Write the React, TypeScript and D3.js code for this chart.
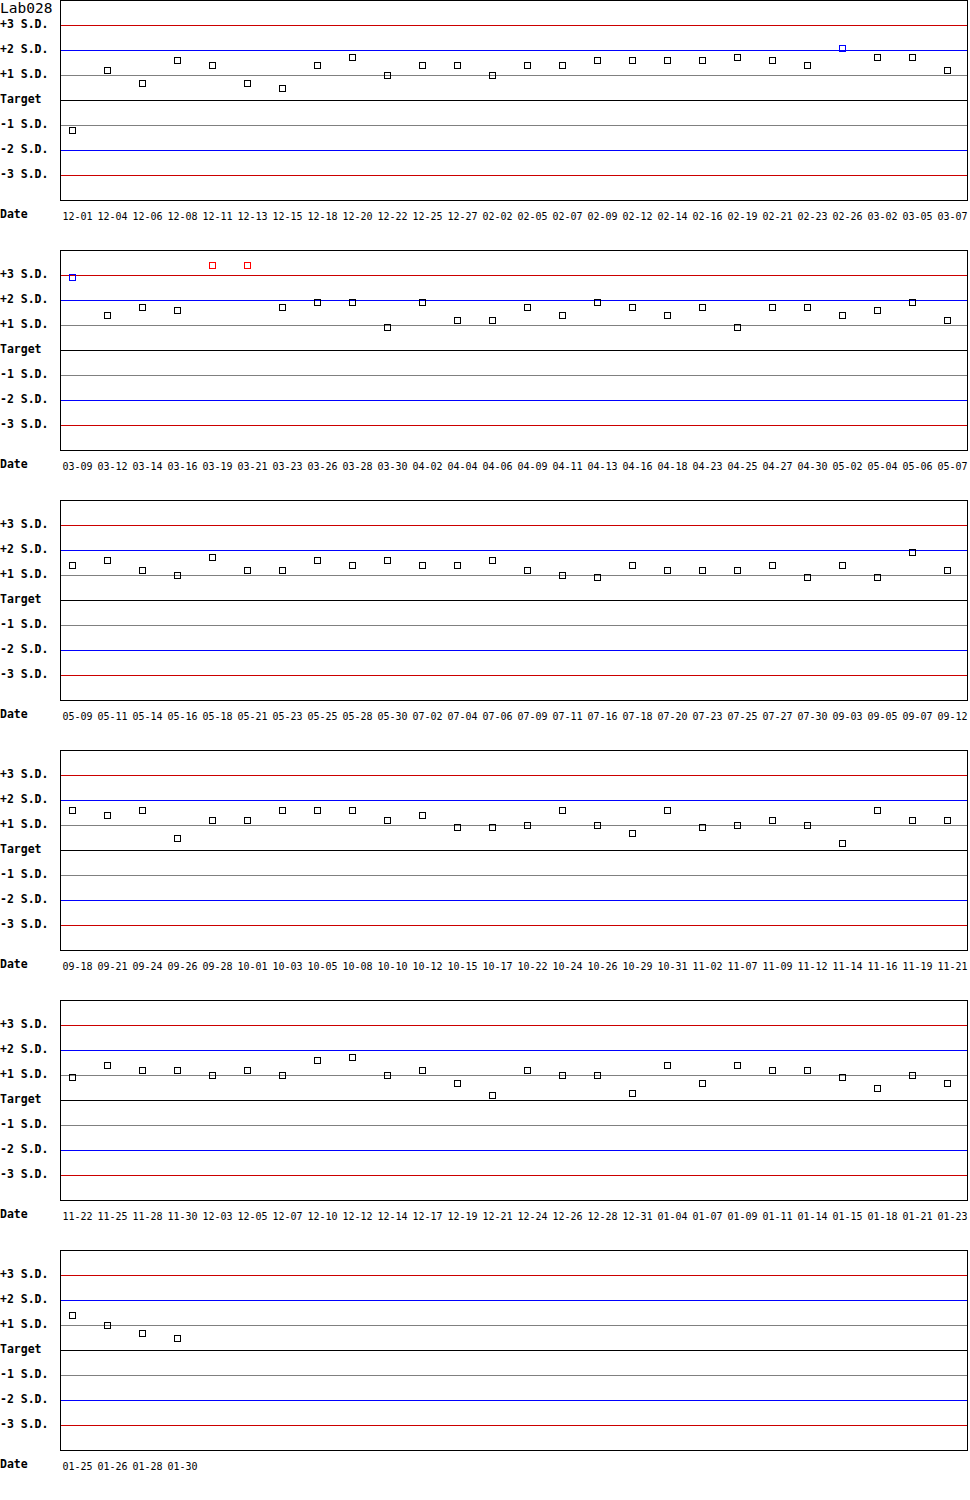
import React from "react";
import { scaleBand, scaleLinear, range } from "d3";

const title = "Lab028";

const dates = [
  "12-01", "12-04", "12-06", "12-08", "12-11", "12-13", "12-15", "12-18", "12-20", "12-22", "12-25", "12-27", "02-02",
  "02-05", "02-07", "02-09", "02-12", "02-14", "02-16", "02-19", "02-21", "02-23", "02-26", "03-02", "03-05", "03-07",
  "03-09", "03-12", "03-14", "03-16", "03-19", "03-21", "03-23", "03-26", "03-28", "03-30", "04-02", "04-04", "04-06",
  "04-09", "04-11", "04-13", "04-16", "04-18", "04-23", "04-25", "04-27", "04-30", "05-02", "05-04", "05-06", "05-07",
  "05-09", "05-11", "05-14", "05-16", "05-18", "05-21", "05-23", "05-25", "05-28", "05-30", "07-02", "07-04", "07-06",
  "07-09", "07-11", "07-16", "07-18", "07-20", "07-23", "07-25", "07-27", "07-30", "09-03", "09-05", "09-07", "09-12",
  "09-18", "09-21", "09-24", "09-26", "09-28", "10-01", "10-03", "10-05", "10-08", "10-10", "10-12", "10-15", "10-17",
  "10-22", "10-24", "10-26", "10-29", "10-31", "11-02", "11-07", "11-09", "11-12", "11-14", "11-16", "11-19", "11-21",
  "11-22", "11-25", "11-28", "11-30", "12-03", "12-05", "12-07", "12-10", "12-12", "12-14", "12-17", "12-19", "12-21",
  "12-24", "12-26", "12-28", "12-31", "01-04", "01-07", "01-09", "01-11", "01-14", "01-15", "01-18", "01-21", "01-23",
  "01-25", "01-26", "01-28", "01-30",
];

// deviation from target, in S.D. units
const sdValues = [
  -1.2, 1.2, 0.7, 1.6, 1.4, 0.7, 0.5, 1.4, 1.7, 1.0, 1.4, 1.4, 1.0,
  1.4, 1.4, 1.6, 1.6, 1.6, 1.6, 1.7, 1.6, 1.4, 2.1, 1.7, 1.7, 1.2,
  2.9, 1.4, 1.7, 1.6, 3.4, 3.4, 1.7, 1.9, 1.9, 0.9, 1.9, 1.2, 1.2,
  1.7, 1.4, 1.9, 1.7, 1.4, 1.7, 0.9, 1.7, 1.7, 1.4, 1.6, 1.9, 1.2,
  1.4, 1.6, 1.2, 1.0, 1.7, 1.2, 1.2, 1.6, 1.4, 1.6, 1.4, 1.4, 1.6,
  1.2, 1.0, 0.9, 1.4, 1.2, 1.2, 1.2, 1.4, 0.9, 1.4, 0.9, 1.9, 1.2,
  1.6, 1.4, 1.6, 0.5, 1.2, 1.2, 1.6, 1.6, 1.6, 1.2, 1.4, 0.9, 0.9,
  1.0, 1.6, 1.0, 0.7, 1.6, 0.9, 1.0, 1.2, 1.0, 0.3, 1.6, 1.2, 1.2,
  0.9, 1.4, 1.2, 1.2, 1.0, 1.2, 1.0, 1.6, 1.7, 1.0, 1.2, 0.7, 0.2,
  1.2, 1.0, 1.0, 0.3, 1.4, 0.7, 1.4, 1.2, 1.2, 0.9, 0.5, 1.0, 0.7,
  1.4, 1.0, 0.7, 0.5,
];

const refLevels = [3, 2, 1, 0, -1, -2, -3];
const refLabels = ["+3 S.D.", "+2 S.D.", "+1 S.D.", "Target", "-1 S.D.", "-2 S.D.", "-3 S.D."];

const perRow = 26;
const rowH = 250;
const plotH = 200;
const W = 970;
const H = 1500;

const lineColor = (lv: number) =>
  Math.abs(lv) === 3 ? "#cc0000" : Math.abs(lv) === 2 ? "#0000ff" : lv === 0 ? "#000" : "#808080";

const pointColor = (v: number) =>
  Math.abs(v) > 3 ? "#ff0000" : Math.abs(v) > 2 ? "#0000ff" : "#000";

const mono = "'DejaVu Sans Mono', 'Liberation Mono', monospace";

const x = scaleBand<number>().domain(range(perRow)).range([60, 970]);
const y = scaleLinear().domain([4, -4]).range([0, plotH]);

const rows = range(Math.ceil(dates.length / perRow)).map((r) =>
  range(r * perRow, Math.min((r + 1) * perRow, dates.length)).map((k) => ({
    date: dates[k],
    v: sdValues[k],
  }))
);

const App: React.FC = () => (
  <svg
    width={W}
    height={H}
    style={{ position: "absolute", left: 0, top: 0, background: "#fff" }}
  >
    <rect width={W} height={H} fill="#fff" />
    <text x={0} y={12.5} fontFamily={mono} fontSize={14.5} fill="#000">
      {title}
    </text>
    {rows.map((row, r) => (
      <g key={r} transform={`translate(0, ${r * rowH})`}>
        {refLevels.map((lv, i) => (
          <g key={lv}>
            <line
              x1={60}
              x2={968}
              y1={y(lv) + 0.5}
              y2={y(lv) + 0.5}
              stroke={lineColor(lv)}
              strokeWidth={1}
              shapeRendering="crispEdges"
            />
            <text
              x={0}
              y={y(lv) + 3}
              fontFamily={mono}
              fontWeight="bold"
              fontSize={11.5}
              fill="#000"
            >
              {refLabels[i]}
            </text>
          </g>
        ))}
        <rect
          x={60.5}
          y={0.5}
          width={907}
          height={plotH}
          fill="none"
          stroke="#000"
          shapeRendering="crispEdges"
        />
        <text x={0} y={218} fontFamily={mono} fontWeight="bold" fontSize={11.5} fill="#000">
          Date
        </text>
        {row.map((d, i) => (
          <text key={"t" + i} x={(x(i) ?? 0) + 2.5} y={220} fontFamily={mono} fontSize={10} fill="#000">
            {d.date}
          </text>
        ))}
        {row.map((d, i) => {
          const cx = Math.round((x(i) ?? 0) + 12);
          const cy = Math.round(y(d.v));
          return (
            <rect
              key={"p" + i}
              x={cx - 2.5}
              y={cy - 2.5}
              width={6}
              height={6}
              fill="none"
              stroke={pointColor(d.v)}
              strokeWidth={1}
              shapeRendering="crispEdges"
            />
          );
        })}
      </g>
    ))}
  </svg>
);

export default App;
